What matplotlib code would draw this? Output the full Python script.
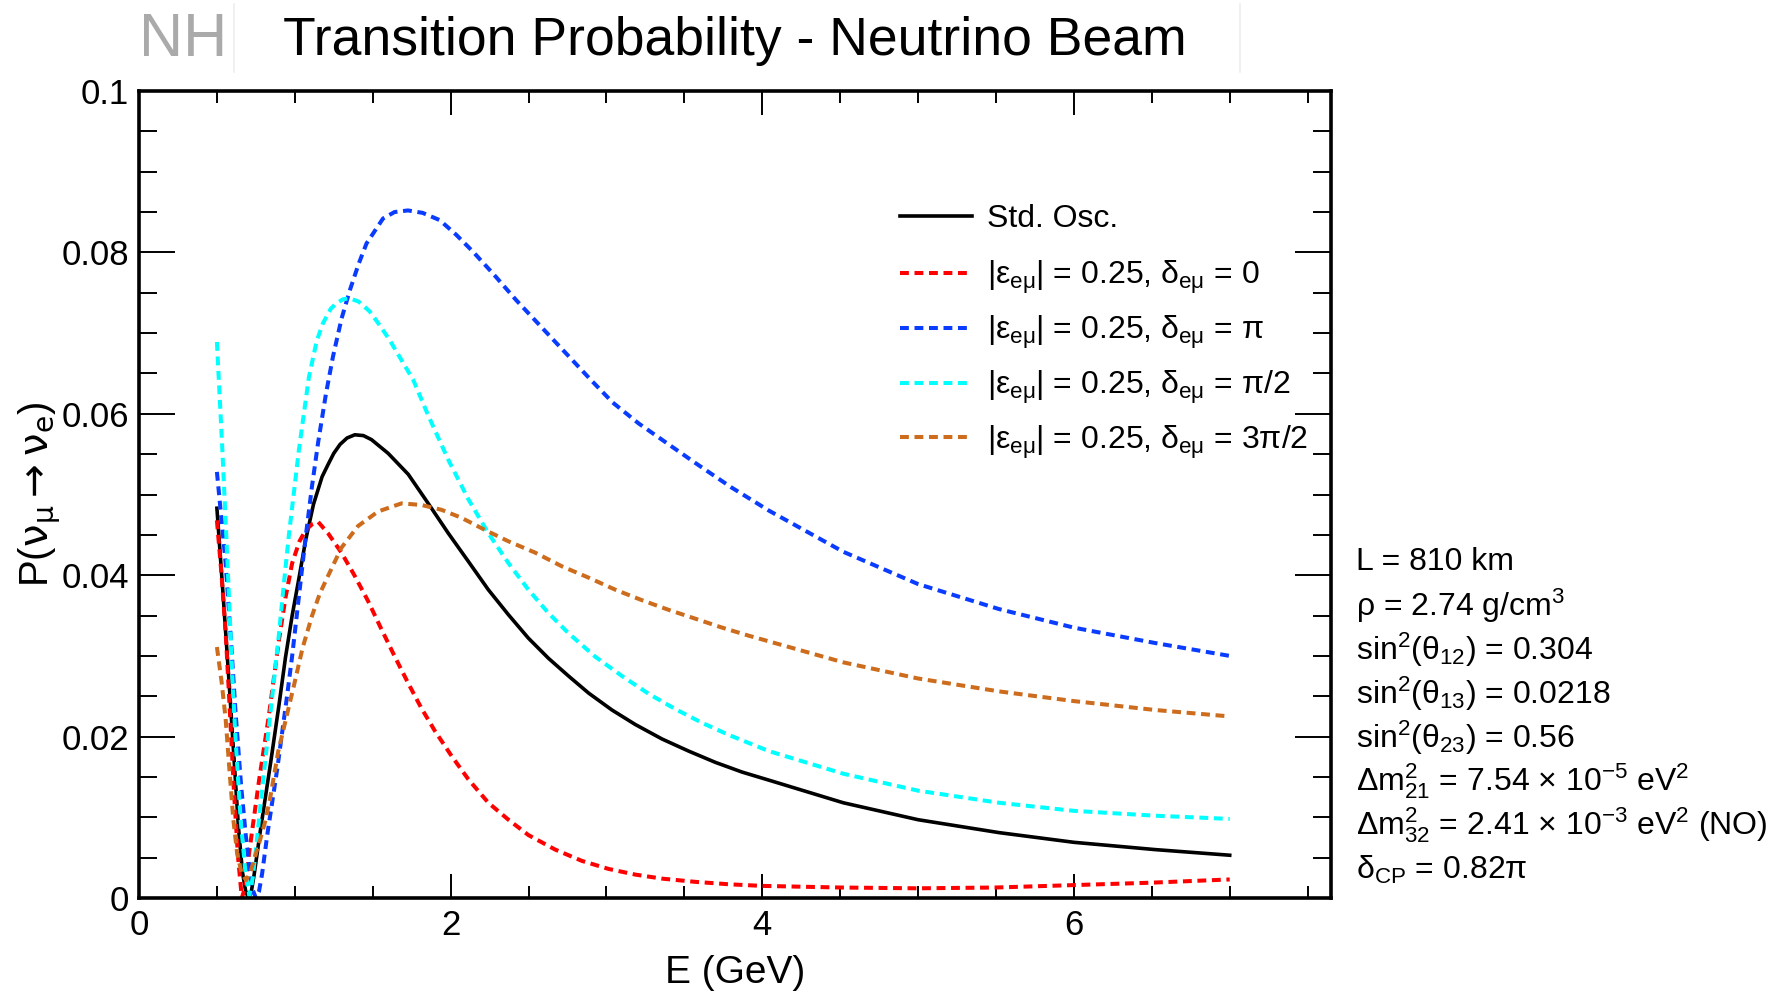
import matplotlib
matplotlib.use("Agg")
import matplotlib.pyplot as plt
from matplotlib.ticker import MultipleLocator

plt.rcParams['font.family'] = ['Liberation Sans', 'DejaVu Sans']
plt.rcParams['mathtext.fontset'] = 'custom'
plt.rcParams['mathtext.rm'] = 'Liberation Sans'
plt.rcParams['mathtext.it'] = 'Liberation Sans'
plt.rcParams['mathtext.sf'] = 'Liberation Sans'
plt.rcParams['mathtext.bf'] = 'Liberation Sans:bold'

# ---------------- data ----------------
E_std = [0.5, 0.54, 0.58, 0.61, 0.638, 0.664, 0.685, 0.703, 0.72, 0.739, 0.78, 0.845, 0.899,
         0.94, 0.983, 1.03, 1.07, 1.12, 1.175, 1.213, 1.25, 1.29, 1.335, 1.385, 1.44, 1.492,
         1.599, 1.728, 1.856, 1.985, 2.114, 2.242, 2.371, 2.499, 2.628, 2.757, 2.885, 3.035,
         3.185, 3.357, 3.528, 3.70, 3.871, 4.043, 4.52, 5.0, 5.52, 6.0, 6.52, 7.0]
P_std = [0.0483, 0.0375, 0.0262, 0.0172, 0.0088, 0.0032, 0.0008, 0.0, 0.0007, 0.0029, 0.0085,
         0.0168, 0.0240, 0.0298, 0.0350, 0.0400, 0.0444, 0.0488, 0.0522, 0.0537, 0.0551,
         0.0562, 0.0570, 0.0574, 0.0573, 0.0568, 0.0551, 0.0525, 0.0489, 0.0452, 0.0417,
         0.0382, 0.0351, 0.0322, 0.0297, 0.0275, 0.0254, 0.0233, 0.0215, 0.0197, 0.0182,
         0.0168, 0.0156, 0.0146, 0.0118, 0.0097, 0.0081, 0.0069, 0.0060, 0.0053]

E_d0 = [0.5, 0.53, 0.556, 0.585, 0.61, 0.635, 0.66, 0.685, 0.706, 0.77, 0.835, 0.897, 0.94,
        0.983, 1.03, 1.07, 1.11, 1.15, 1.213, 1.299, 1.385, 1.47, 1.556, 1.642, 1.728, 1.813,
        1.899, 2.006, 2.114, 2.242, 2.371, 2.499, 2.671, 2.842, 3.014, 3.185, 3.357, 3.571,
        3.786, 4.0, 4.5, 5.0, 5.5, 6.0, 6.5, 7.0]
P_d0 = [0.0468, 0.0400, 0.0330, 0.0225, 0.0130, 0.0052, 0.0, 0.0016, 0.0055, 0.0145, 0.0228,
        0.0318, 0.0372, 0.0415, 0.0442, 0.0456, 0.0463, 0.0466, 0.0452, 0.0428, 0.0399,
        0.0368, 0.0333, 0.0299, 0.0266, 0.0235, 0.0207, 0.0176, 0.0147, 0.0118, 0.0097,
        0.0078, 0.0060, 0.0046, 0.0036, 0.0029, 0.0024, 0.0020, 0.0017, 0.0015, 0.0013,
        0.0012, 0.0013, 0.0016, 0.0019, 0.0023]

E_dpi = [0.5, 0.53, 0.556, 0.59, 0.62, 0.655, 0.685, 0.71, 0.73, 0.75, 0.77, 0.79, 0.823,
         0.888, 0.95, 0.983, 1.03, 1.07, 1.11, 1.15, 1.20, 1.245, 1.30, 1.353, 1.41, 1.46,
         1.566, 1.64, 1.726, 1.82, 1.93, 2.035, 2.143, 2.28, 2.42, 2.58, 2.74, 2.9, 3.04,
         3.207, 3.4, 3.571, 3.8, 4.043, 4.52, 5.0, 5.52, 6.0, 6.52, 7.0]
P_dpi = [0.0528, 0.0468, 0.0415, 0.0320, 0.0229, 0.0140, 0.0078, 0.0035, 0.0010, 0.0, 0.0008,
         0.0030, 0.0078, 0.0161, 0.0250, 0.0300, 0.0380, 0.0448, 0.0510, 0.0565, 0.0625,
         0.0671, 0.0718, 0.0753, 0.0786, 0.0811, 0.0842, 0.0850, 0.0852, 0.0849, 0.0840,
         0.0822, 0.0801, 0.0772, 0.0741, 0.0708, 0.0675, 0.0642, 0.0614, 0.0588, 0.0562,
         0.0539, 0.0509, 0.0480, 0.0429, 0.0389, 0.0358, 0.0335, 0.0316, 0.0300]

E_dpi2 = [0.5, 0.534, 0.56, 0.577, 0.60, 0.62, 0.653, 0.684, 0.708, 0.73, 0.76, 0.785, 0.813,
          0.855, 0.897, 0.93, 0.962, 1.026, 1.09, 1.14, 1.18, 1.23, 1.267, 1.31, 1.353, 1.41,
          1.48, 1.54, 1.61, 1.68, 1.76, 1.856, 1.985, 2.114, 2.242, 2.371, 2.499, 2.628,
          2.757, 2.928, 3.10, 3.271, 3.443, 3.614, 3.786, 4.043, 4.52, 5.0, 5.52, 6.0, 6.52,
          7.0]
P_dpi2 = [0.0689, 0.0559, 0.0450, 0.0375, 0.0270, 0.0195, 0.0095, 0.0030, 0.0003, 0.0025,
          0.0078, 0.0125, 0.0175, 0.0250, 0.0325, 0.0390, 0.0450, 0.0555, 0.0645, 0.0690,
          0.0712, 0.0730, 0.0737, 0.0742, 0.0743, 0.0739, 0.0727, 0.0711, 0.0691, 0.0668,
          0.0642, 0.0598, 0.0543, 0.0494, 0.0452, 0.0415, 0.0382, 0.0353, 0.0328, 0.0299,
          0.0275, 0.0253, 0.0234, 0.0217, 0.0202, 0.0182, 0.0154, 0.0133, 0.0118, 0.0108,
          0.0102, 0.0098]

E_d3pi2 = [0.5, 0.53, 0.556, 0.58, 0.605, 0.63, 0.66, 0.688, 0.72, 0.75, 0.777, 0.81, 0.84,
           0.894, 0.947, 1.0, 1.05, 1.111, 1.16, 1.213, 1.299, 1.406, 1.535, 1.685, 1.814,
           1.942, 2.071, 2.221, 2.371, 2.542, 2.714, 2.885, 3.057, 3.228, 3.40, 3.572, 3.743,
           3.914, 4.043, 4.52, 5.0, 5.52, 6.0, 6.52, 7.0]
P_d3pi2 = [0.0311, 0.0268, 0.0222, 0.0160, 0.0098, 0.0055, 0.0030, 0.0022, 0.0035, 0.0055,
           0.0072, 0.0095, 0.0122, 0.0182, 0.0225, 0.0268, 0.0310, 0.0350, 0.0377, 0.0399,
           0.0434, 0.0461, 0.0479, 0.0489, 0.0487, 0.0481, 0.0471, 0.0456, 0.0442, 0.0428,
           0.0411, 0.0397, 0.0382, 0.0369, 0.0357, 0.0346, 0.0335, 0.0325, 0.0318, 0.0292,
           0.0272, 0.0256, 0.0244, 0.0233, 0.0225]

labels = ['Std. Osc.',
          r'$|ε_{eμ}|$ = 0.25, $δ_{eμ}$ = 0',
          r'$|ε_{eμ}|$ = 0.25, $δ_{eμ}$ = π',
          r'$|ε_{eμ}|$ = 0.25, $δ_{eμ}$ = π/2',
          r'$|ε_{eμ}|$ = 0.25, $δ_{eμ}$ = 3π/2']
colors = ['black', '#ff0000', '#0a3cff', '#00ffff', '#cc6c1c']

xtick_vals = [0, 2, 4, 6]
xtick_labels = ['0', '2', '4', '6']
ytick_vals = [0, 0.02, 0.04, 0.06, 0.08, 0.1]
ytick_labels = ['0', '0.02', '0.04', '0.06', '0.08', '0.1']

info_lines = [r'L = 810 km',
              r'ρ = 2.74 g/cm$^{3}$',
              r'sin$^{2}$(θ$_{12}$) = 0.304',
              r'sin$^{2}$(θ$_{13}$) = 0.0218',
              r'sin$^{2}$(θ$_{23}$) = 0.56',
              r'Δm$^{2}_{21}$ = 7.54 × 10$^{-5}$ eV$^{2}$',
              r'Δm$^{2}_{32}$ = 2.41 × 10$^{-3}$ eV$^{2}$ (NO)',
              r'δ$_{CP}$ = 0.82π']

# ---------------- figure ----------------
W, H = 1787, 991
fig = plt.figure(figsize=(W / 100, H / 100), dpi=100)
ax = fig.add_axes([139 / W, 1 - 898 / H, 1192 / W, 807 / H])

series = [(E_std, P_std), (E_d0, P_d0), (E_dpi, P_dpi), (E_dpi2, P_dpi2), (E_d3pi2, P_d3pi2)]
handles = []
for i, ((E, P), lab, col) in enumerate(zip(series, labels, colors)):
    if i == 0:
        h, = ax.plot(E, P, color=col, lw=2.6, label=lab, solid_joinstyle='round')
    else:
        h, = ax.plot(E, P, color=col, lw=2.9, label=lab, dashes=(2.2, 1.4))
    handles.append(h)

ax.set_xlim(0, 7.65)
ax.set_ylim(0, 0.1)
ax.set_xticks(xtick_vals, xtick_labels)
ax.set_yticks(ytick_vals, ytick_labels)
ax.xaxis.set_minor_locator(MultipleLocator(0.5))
ax.yaxis.set_minor_locator(MultipleLocator(0.005))
ax.tick_params(axis='both', which='both', direction='in', top=True, right=True,
               width=1.4, labelsize=25, colors='black')
ax.tick_params(axis='y', which='major', length=26, pad=7)
ax.tick_params(axis='y', which='minor', length=13)
ax.tick_params(axis='x', which='major', length=17, pad=8)
ax.tick_params(axis='x', which='minor', length=8.6)
for sp in ax.spines.values():
    sp.set_linewidth(2.6)

ax.set_xlabel('E (GeV)', fontsize=28, labelpad=9)
ax.set_ylabel(r'P($\mathrm{ν}_{\mathrm{μ}} \rightarrow \mathrm{ν}_{\mathrm{e}}$)', fontsize=29,
              labelpad=-1, math_fontfamily='dejavusans')

leg_kw = dict(bbox_transform=fig.transFigure, frameon=False, fontsize=23,
              handlelength=2.26, handletextpad=0.47, borderpad=0, borderaxespad=0)
leg1 = ax.legend(handles[:1], labels[:1], loc='center left',
                 bbox_to_anchor=(900 / W, 1 - 219 / H), **leg_kw)
ax.add_artist(leg1)
ax.legend(handles[1:], labels[1:], loc='center left',
          bbox_to_anchor=(900 / W, 1 - 360 / H), labelspacing=0.55, **leg_kw)

# title
fig.text(735 / W, 1 - 41 / H, 'Transition Probability - Neutrino Beam', fontsize=38.5,
         ha='center', va='center', color='black')
fig.text(139 / W, 1 - 41 / H, 'NH', fontsize=44, ha='left', va='center', color='#aaaaaa')
fig.add_artist(plt.Line2D([234 / W, 234 / W], [1 - 4 / H, 1 - 72 / H], color='#eeeeee', lw=1.2))
fig.add_artist(plt.Line2D([1240 / W, 1240 / W], [1 - 4 / H, 1 - 72 / H], color='#eeeeee', lw=1.2))

# parameter block
y0 = 561.5
dy = 44
for k, line in enumerate(info_lines):
    fig.text(1356 / W, 1 - (y0 + k * dy) / H, line, fontsize=23, ha='left', va='center')

fig.savefig('out.png', dpi=100)
